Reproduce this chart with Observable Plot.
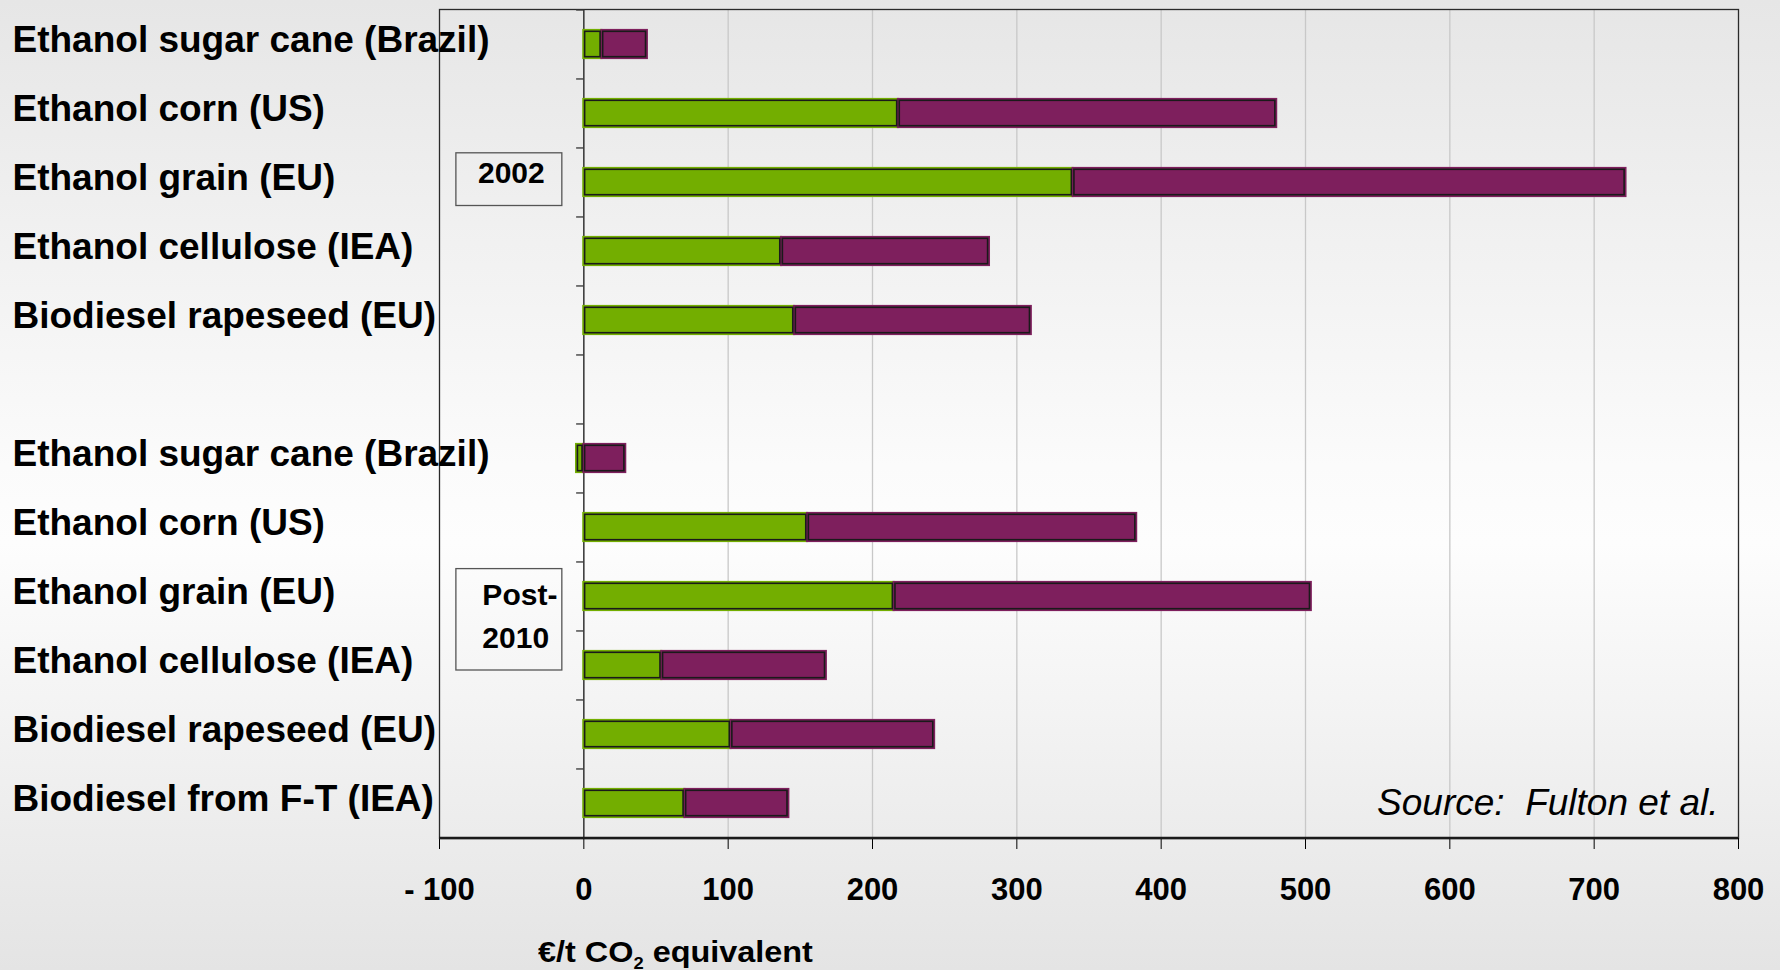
<!DOCTYPE html>
<html><head><meta charset="utf-8">
<script src="https://cdn.jsdelivr.net/npm/d3@7"></script>
<script src="https://cdn.jsdelivr.net/npm/@observablehq/plot@0.6"></script>
<style>
html,body{margin:0;padding:0;}
body{width:1780px;height:970px;overflow:hidden;position:relative;
 background:linear-gradient(to bottom,#e6e6e6 0%,#fbfbfb 48%,#fdfdfd 56%,#e4e4e4 100%);
 font-family:"Liberation Sans",Arial,sans-serif;}
#chart{position:absolute;left:0;top:0;}
#xtitle{position:absolute;left:538px;top:937px;font-weight:bold;font-size:30px;line-height:30px;white-space:nowrap;color:#000;transform:scaleX(1.08);transform-origin:left center;}
#xtitle sub{font-size:17px;line-height:0;vertical-align:-7px;}
</style></head>
<body>
<div id="chart"></div>
<div id="xtitle">€/t CO<sub>2</sub> equivalent</div>
<script>
// ---- data ----
const fuels2002 = ["Ethanol sugar cane (Brazil)", "Ethanol corn (US)", "Ethanol grain (EU)", "Ethanol cellulose (IEA)", "Biodiesel rapeseed (EU)"];
const green2002 = [12.5, 218, 339, 137, 146];
const purple2002 = [31.5, 262, 383, 144, 164];
const fuelsPost2010 = ["Ethanol sugar cane (Brazil)", "Ethanol corn (US)", "Ethanol grain (EU)", "Ethanol cellulose (IEA)", "Biodiesel rapeseed (EU)", "Biodiesel from F-T (IEA)"];
const greenPost2010 = [-5, 155, 215, 54, 102, 70];
const purplePost2010 = [29, 228, 289, 114, 141, 72];
const parts = ["first segment", "second segment"];
const partColors = ["#73ae00", "#7e1f5d"];
const xTicks = [-100, 0, 100, 200, 300, 400, 500, 600, 700, 800];
const xTickLabels = ["- 100", "0", "100", "200", "300", "400", "500", "600", "700", "800"];
const gridTicks = [100, 200, 300, 400, 500, 600, 700];
const periodLabels = ["2002", "Post-\n2010"];
const sourceText = "Source:\u00a0 Fulton et al.";

// ---- build table ----
const keys = [...fuels2002.map(f => "2002|" + f), "gap", ...fuelsPost2010.map(f => "Post-2010|" + f)];
const rows = [];
fuels2002.forEach((f, i) => {
  rows.push({key: "2002|" + f, part: parts[0], value: green2002[i]});
  rows.push({key: "2002|" + f, part: parts[1], value: purple2002[i]});
});
fuelsPost2010.forEach((f, i) => {
  rows.push({key: "Post-2010|" + f, part: parts[0], value: greenPost2010[i]});
  rows.push({key: "Post-2010|" + f, part: parts[1], value: purplePost2010[i]});
});

const W = 1780, H = 970, mL = 439, mR = 42, mT = 9, mB = 132;
const step = (H - mT - mB) / keys.length;
const bold = "bold";
const box2002Row = "2002|Ethanol grain (EU)";
const boxPostRow = "Post-2010|Ethanol grain (EU)";

const chart = Plot.plot({
  width: W, height: H,
  marginLeft: mL, marginRight: mR, marginTop: mT, marginBottom: mB,
  style: {background: "transparent", fontFamily: "'Liberation Sans', Arial, sans-serif", color: "#000", overflow: "visible"},
  x: {domain: [-100, 800]},
  y: {domain: keys, paddingInner: 0.6, paddingOuter: 0.3, axis: null},
  color: {domain: parts, range: partColors},
  marks: [
    Plot.gridX(gridTicks, {stroke: "#c8c8c8", strokeOpacity: 1, strokeWidth: 1.3}),
    Plot.frame({stroke: "#2a2a2a", strokeWidth: 1.3}),
    Plot.ruleX([0], {stroke: "#333", strokeWidth: 1.5}),
    Plot.ruleY(keys, {y: d => d, x1: -5, x2: 0, dy: -step / 2, stroke: "#333", strokeWidth: 1.3}),
    Plot.barX(rows, {x: "value", y: "key", fill: "part", stroke: "part", strokeWidth: 2.2}),
    Plot.barX(rows, {x: "value", y: "key", fill: "part", stroke: "#1a1a1a", strokeWidth: 1.6, inset: 1.3}),
    Plot.axisX(xTicks, {tickSize: 11, tickPadding: 28, tickFormat: d => xTickLabels[xTicks.indexOf(d)], fontSize: 31, fontWeight: bold, label: null}),
    Plot.ruleY([0], {y: () => keys[keys.length - 1], x1: -100, x2: 800, dy: step / 2, stroke: "#1a1a1a", strokeWidth: 2.4}),
    Plot.text(keys.filter(k => k !== "gap"), {y: d => d, text: d => d.split("|")[1], frameAnchor: "left", textAnchor: "start", lineAnchor: "middle", dx: 12 - mL, dy: -4, fontSize: 37, fontWeight: bold, fill: "#000"}),
    Plot.barX([periodLabels[0]], {x1: -88.3, x2: -14.9, y: () => box2002Row, insetTop: -15.2, insetBottom: -9.5, fill: "none", stroke: "#555", strokeWidth: 1.3}),
    Plot.text([periodLabels[0]], {x: -50.2, y: () => box2002Row, text: d => d, dy: -8.7, fontSize: 30, fontWeight: bold, fill: "#000"}),
    Plot.barX([periodLabels[1]], {x1: -88.3, x2: -14.9, y: () => boxPostRow, insetTop: -13.4, insetBottom: -60, fill: "none", stroke: "#555", strokeWidth: 1.3}),
    Plot.text([periodLabels[1]], {x: -70.3, y: () => boxPostRow, text: d => d, textAnchor: "start", lineAnchor: "middle", lineHeight: 1.43, dy: 16.3, fontSize: 30, fontWeight: bold, fill: "#000"}),
    Plot.text([sourceText], {frameAnchor: "bottom-right", textAnchor: "end", lineAnchor: "middle", dx: -20, dy: -35.5, text: d => d, fontSize: 37, fontStyle: "italic", fontWeight: "normal", fill: "#000"})
  ]
});
document.getElementById("chart").appendChild(chart);
</script>
</body></html>
